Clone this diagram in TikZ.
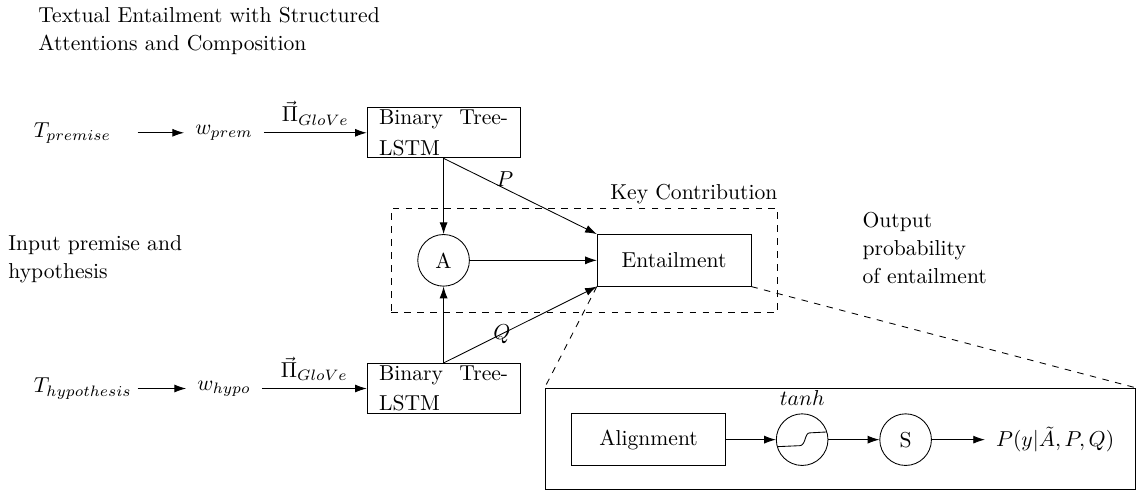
\documentclass[tikz,border=0pt]{standalone}
\usepackage{amsmath}
\usepackage{amssymb}
\usetikzlibrary{shapes,arrows,arrows.meta,positioning,calc,fit}

\begin{document}
\begin{tikzpicture}[
    >={Latex[length=1.9mm,width=1.3mm]},
    word/.style={text width=1.68cm, align=left, inner xsep=0pt},
    vec/.style={inner xsep=5pt},
    lstm/.style={draw, text width=2.1cm, align=justify, inner xsep=5.5pt, inner ysep=1pt, font=\fontsize{10}{14.2}\selectfont},
    block/.style={draw, minimum width=2.5cm, minimum height=0.84cm},
    unit/.style={circle, draw, minimum size=0.84cm, inner sep=0pt},
    note/.style={align=left, inner sep=0pt, anchor=north west, font=\fontsize{10}{12.8}\selectfont}
]
\useasboundingbox (0,0) rectangle (18.61,7.99);

% Title
\node[note] (title) at (0.618,7.875) {Textual Entailment with Structured\\Attentions and Composition};

% Premise
\node[word] (tprem) at (1.391,5.83) {$T_{premise}$};
\node[vec] (wprem) at (3.644,5.83) {$w_{prem}$};
\node[lstm] (tree1) at (7.216,5.83) {Binary Tree-LSTM};

% Hypothesis
\node[word] (thypo) at (1.391,1.67) {$T_{hypothesis}$};
\node[vec] (whypo) at (3.644,1.67) {$w_{hypo}$};
\node[lstm] (tree2) at (7.216,1.67) {Binary Tree-LSTM};

% Attention
\node[unit] (attn) at (7.216,3.755) {A};

% Entailment
\node[block] (ent) at (10.966,3.755) {Entailment};

% Key contribution
\node[draw, dashed, fit=(attn)(ent), inner sep=12pt] (key) {};
\node[anchor=south east, inner xsep=0pt, inner ysep=1.5pt] (keylabel) at (key.north east) {Key Contribution};

% Side notes
\node[note] (innote) at (0.130,4.165) {Input premise and\\hypothesis};
\node[note] (outnote) at (14.025,4.539) {Output\\probability\\of entailment};

% Zoomed view
\node[draw, minimum width=9.6cm, minimum height=1.643cm] (zoom) at (13.667,0.854) {};
\node[block] (align) at (10.551,0.838) {Alignment};
\node[unit, label=above:$tanh$] (tanh) at (13.049,0.838) {};
\node[unit] (sm) at (14.732,0.838) {S};
\node[inner xsep=5pt] (prob) at (17.165,0.838) {$P(y|\tilde{A},P,Q)$};

% Connections
\draw[->] (tprem) -- (wprem);
\draw[->] (wprem) -- node[above] {$\vec{\Pi}_{GloVe}$} (tree1);
\draw[->] (thypo) -- (whypo);
\draw[->] (whypo) -- node[above] {$\vec{\Pi}_{GloVe}$} (tree2);

\draw[->] (tree1) -- (attn);
\draw[->] (tree2) -- (attn);
\draw[->] (tree1.south) -- node[pos=0.4, above, inner sep=1pt] {$P$} (ent.north west);
\draw[->] (tree2.north) -- node[pos=0.38, inner sep=0pt] {$Q$} (ent.south west);
\draw[->] (attn) -- (ent);

\draw[dashed] (ent.south west) -- (zoom.north west);
\draw[dashed] (ent.south east) -- (zoom.north east);

\draw[->] (align) -- (tanh);
\draw[->] (tanh) -- (sm);
\draw[->] (sm) -- (prob);

% Sigmoid inside tanh
\draw ($(tanh.center)+(-0.404,-0.114)$) -- ($(tanh.center)+(-0.04,-0.098)$) .. controls +(0.1,0) and +(-0.08,0) .. ($(tanh.center)+(0.12,0.11)$) -- ($(tanh.center)+(0.4,0.125)$);

\end{tikzpicture}
\end{document}
